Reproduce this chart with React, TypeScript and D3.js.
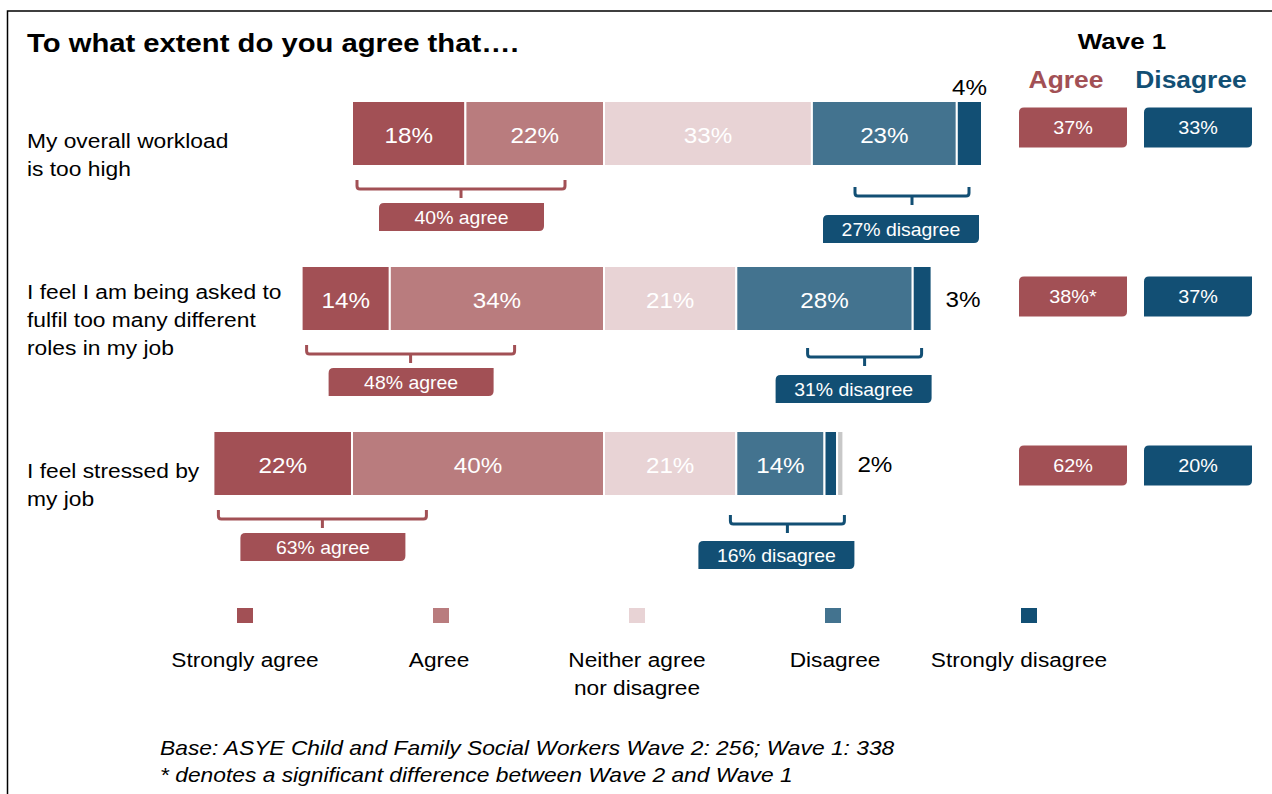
import React from "react";
import * as d3 from "d3";

const questions = [
  ["My overall workload", "is too high"],
  ["I feel I am being asked to", "fulfil too many different", "roles in my job"],
  ["I feel stressed by", "my job"],
];
const categories = ["Strongly agree", "Agree", "Neither agree nor disagree", "Disagree", "Strongly disagree", "Don't know"];
const legendLabels = [["Strongly agree"], ["Agree"], ["Neither agree", "nor disagree"], ["Disagree"], ["Strongly disagree"]];
const stronglyAgree = [18, 14, 22];
const agree = [22, 34, 40];
const neither = [33, 21, 21];
const disagree = [23, 28, 14];
const stronglyDisagree = [4, 3, 2];
const dontKnow = [0, 0, 1];
const netAgree = [40, 48, 63];
const netDisagree = [27, 31, 16];
const wave1Agree = ["37%", "38%*", "62%"];
const wave1Disagree = ["33%", "37%", "20%"];

const COLORS = ["#a25055", "#b97c7e", "#e8d3d5", "#43738f", "#124f74", "#c8c8c8"];
const AGREE_C = "#a25055";
const DIS_C = "#124f74";
const FONT = "'Liberation Sans', Arial, sans-serif";

// layout tweaks (not data)
const disBracketRightOffset = [13, 10, -1];
const disBracketTop = [21, 17, 19];
const disBoxTop = [49, 44, 45];
const waveBoxShift = [-6, -2, 2];
const legendLabelShift = [0, -2, 0, 2, -10];

function tagPath(x: number, y: number, w: number, h: number, r = 5) {
  return `M${x + r},${y} H${x + w} V${y + h - r} Q${x + w},${y + h} ${x + w - r},${y + h} H${x} V${y + r} Q${x},${y} ${x + r},${y} Z`;
}

function T(props: { x: number; y: number; size: number; sx?: number; anchor?: string; fill?: string; bold?: boolean; italic?: boolean; children: any }) {
  const { x, y, size, sx = 1, anchor = "start", fill = "#000", bold, italic, children } = props;
  return (
    <text
      transform={`translate(${x},${y}) scale(${sx},1)`}
      fontSize={size}
      textAnchor={anchor as any}
      fill={fill}
      fontWeight={bold ? "bold" : "normal"}
      fontStyle={italic ? "italic" : "normal"}
    >
      {children}
    </text>
  );
}

export default function App() {
  const W = 1272, H = 794;
  const x = d3.scaleLinear().domain([0, 100]).range([0, 630]);
  const anchor = 604;
  const rowIdx = d3.range(questions.length);
  const y = d3.scaleLinear().domain([0, 1]).range([101, 266]);
  const barH = 65;

  const series = [stronglyAgree, agree, neither, disagree, stronglyDisagree, dontKnow];
  const stackData = rowIdx.map((i) => {
    const obj: any = { i };
    categories.forEach((c, k) => (obj[c] = series[k][i]));
    return obj;
  });
  const stacked = d3.stack<any>().keys(categories)(stackData);

  const legendX = d3.scalePoint<number>().domain([0, 1, 2, 3, 4]).range([245, 1029]);

  return (
    <svg width={W} height={H} style={{ position: "absolute", left: 0, top: 0, fontFamily: FONT }}>
      <rect x={0} y={0} width={W} height={H} fill="#fff" />
      <rect x={7.5} y={11} width={W + 20} height={H + 20} fill="none" stroke="#000" strokeWidth={1.5} />
      <T x={27} y={52} size={25} sx={1.17} bold>To what extent do you agree that….</T>

      <T x={1122} y={49} size={22} sx={1.18} anchor="middle" bold>Wave 1</T>
      <T x={1066} y={88} size={24} sx={1.1} anchor="middle" fill={AGREE_C} bold>Agree</T>
      <T x={1191} y={88} size={24} sx={1.1} anchor="middle" fill={DIS_C} bold>Disagree</T>

      {rowIdx.map((i) => {
        const top = y(i);
        const start = anchor - x(stronglyAgree[i] + agree[i]);
        const bottom = top + barH;
        const barEnd = start + x(stacked[stacked.length - 1][i][1]);
        const lines = questions[i];
        const cy = top + barH / 2;
        const lh = 28;
        const firstY = cy + 21 - ((lines.length - 1) * lh) / 2 + 7;
        const ax0 = start + 5, ax1 = ax0 + 208, at = bottom + 14, axc = (ax0 + ax1) / 2;
        const dx1 = barEnd - disBracketRightOffset[i], dx0 = dx1 - 114, dt = bottom + disBracketTop[i], dxc = (dx0 + dx1) / 2;
        const sdMid = start + x((stacked[4][i][0] + stacked[4][i][1]) / 2);
        const wy = cy - 20 + waveBoxShift[i];
        return (
          <g key={i}>
            {lines.map((l, j) => (
              <T key={j} x={27} y={firstY + j * lh} size={21} sx={1.085}>{l}</T>
            ))}
            {stacked.map((s, k) => {
              const d = s[i];
              const w = x(d[1] - d[0]);
              if (w <= 0) return null;
              const x0 = start + x(d[0]);
              return (
                <g key={k}>
                  <rect x={x0} y={top} width={w} height={barH} fill={COLORS[k]} stroke="#fff" strokeWidth={2} />
                  {k < 4 && (
                    <T x={x0 + w / 2} y={cy + 9} size={22} sx={1.1} fill="#fff" anchor="middle">{series[k][i]}%</T>
                  )}
                </g>
              );
            })}
            {i === 0 ? (
              <T x={sdMid} y={top - 6} size={22} sx={1.1} anchor="middle">{stronglyDisagree[i]}%</T>
            ) : (
              <T x={barEnd + 14} y={cy + 8} size={22} sx={1.1}>{stronglyDisagree[i]}%</T>
            )}
            <path d={`M${ax0},${at} V${at + 6} Q${ax0},${at + 9} ${ax0 + 3},${at + 9} H${ax1 - 3} Q${ax1},${at + 9} ${ax1},${at + 6} V${at} M${axc},${at + 9} V${at + 18}`} fill="none" stroke={AGREE_C} strokeWidth={3} />
            <path d={tagPath(ax0 + 22, bottom + 37, 165, 28)} fill={AGREE_C} />
            <T x={ax0 + 22 + 82.5} y={bottom + 37 + 21} size={18} sx={1.08} fill="#fff" anchor="middle">{netAgree[i]}% agree</T>
            <path d={`M${dx0},${dt} V${dt + 6} Q${dx0},${dt + 9} ${dx0 + 3},${dt + 9} H${dx1 - 3} Q${dx1},${dt + 9} ${dx1},${dt + 6} V${dt} M${dxc},${dt + 9} V${dt + 18}`} fill="none" stroke={DIS_C} strokeWidth={3} />
            <path d={tagPath(dx0 - 32, bottom + disBoxTop[i], 156, 28)} fill={DIS_C} />
            <T x={dx0 - 32 + 78} y={bottom + disBoxTop[i] + 21} size={18} sx={1.08} fill="#fff" anchor="middle">{netDisagree[i]}% disagree</T>
            <path d={tagPath(1019, wy, 108, 40)} fill={AGREE_C} />
            <T x={1073} y={wy + 26} size={18} sx={1.1} fill="#fff" anchor="middle">{wave1Agree[i]}</T>
            <path d={tagPath(1144, wy, 108, 40)} fill={DIS_C} />
            <T x={1198} y={wy + 26} size={18} sx={1.1} fill="#fff" anchor="middle">{wave1Disagree[i]}</T>
          </g>
        );
      })}

      {legendLabels.map((lab, k) => (
        <g key={k}>
          <rect x={legendX(k)! - 8} y={608} width={16} height={15} fill={COLORS[k]} />
          {lab.map((t, j) => (
            <T key={j} x={legendX(k)! + legendLabelShift[k]} y={667 + j * 28} size={21} sx={1.08} anchor="middle">{t}</T>
          ))}
        </g>
      ))}

      <T x={160} y={755} size={20} sx={1.14} italic>Base: ASYE Child and Family Social Workers Wave 2: 256; Wave 1: 338</T>
      <T x={160} y={782} size={20} sx={1.14} italic>* denotes a significant difference between Wave 2 and Wave 1</T>
    </svg>
  );
}
